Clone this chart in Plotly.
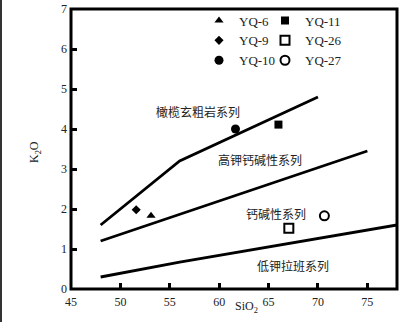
import plotly.graph_objects as go

# ---- data ----
samples = ["YQ-6", "YQ-9", "YQ-10", "YQ-11", "YQ-26", "YQ-27"]
sio2 = [53.1, 51.6, 61.65, 66.0, 67.05, 70.65]
k2o = [1.83, 1.98, 4.0, 4.11, 1.52, 1.83]

# boundary lines
shoshonite_x = [48, 56, 70]
shoshonite_y = [1.6, 3.2, 4.8]
highk_x = [48, 75]
highk_y = [1.2, 3.45]
lowk_x = [48, 56, 78]
lowk_y = [0.3, 0.67, 1.6]

field_labels = ["橄榄玄粗岩系列", "高钾钙碱性系列", "钙碱性系列", "低钾拉班系列"]
field_label_x = [57.9, 64.1, 65.8, 67.5]
field_label_y = [4.43, 3.23, 1.9, 0.59]

x_ticks = [45, 50, 55, 60, 65, 70, 75]
y_ticks = [0, 1, 2, 3, 4, 5, 6, 7]

# ---- styles ----
symbols = ["triangle-up", "diamond", "circle", "square", "square-open", "circle-open"]
sizes = [8, 7, 9, 8, 9, 9]
legend_ids = ["legend", "legend", "legend", "legend2", "legend2", "legend2"]

SERIF = "Liberation Serif, Times New Roman, serif"
CJK = "Noto Sans CJK SC"

fig = go.Figure()

for xs, ys in [(shoshonite_x, shoshonite_y), (highk_x, highk_y), (lowk_x, lowk_y)]:
    fig.add_trace(go.Scatter(x=xs, y=ys, mode="lines", line=dict(color="black", width=2.8),
                             showlegend=False, hoverinfo="skip"))

for i, name in enumerate(samples):
    fig.add_trace(go.Scatter(
        x=[sio2[i]], y=[k2o[i]], mode="markers", name=name,
        marker=dict(symbol=symbols[i], size=sizes[i], color="black",
                    line=dict(color="black", width=2 if "open" in symbols[i] else 0)),
        legend=legend_ids[i],
    ))

for t, x, y in zip(field_labels, field_label_x, field_label_y):
    fig.add_annotation(x=x, y=y, text=t, showarrow=False, xanchor="center", yanchor="middle",
                       font=dict(family=CJK, size=12, color="#222"))

L, R, T, B = 71, 9, 9, 33
W, H = 406, 322
pw, ph = W - L - R, H - T - B

# axis titles
fig.add_annotation(xref="paper", yref="paper", x=(246.7 - L) / pw, y=(H - B - 306.7) / ph,
                   text="SiO<sub>2</sub>", showarrow=False, xanchor="center", yanchor="middle",
                   font=dict(family=SERIF, size=12, color="#222"))
fig.add_annotation(xref="paper", yref="paper", x=(35 - L) / pw, y=(H - B - 152) / ph,
                   text="K<sub>2</sub>O", showarrow=False, textangle=-90,
                   xanchor="center", yanchor="middle",
                   font=dict(family=SERIF, size=12, color="#222"))

# plot frame
fig.add_shape(type="rect", xref="paper", yref="paper", x0=0, x1=1, y0=0, y1=1,
              line=dict(color="black", width=3), layer="above")
# thin outer edge line at the far left of the picture
fig.add_shape(type="line", xref="paper", yref="paper",
              x0=(1 - L) / pw, x1=(1 - L) / pw, y0=-B / ph, y1=1 + T / ph,
              line=dict(color="#333", width=2))

axis_common = dict(showline=False, ticks="inside", ticklen=6, tickwidth=2.5, tickcolor="black",
                   showgrid=False, zeroline=False, automargin=False,
                   tickfont=dict(family=SERIF, size=12, color="#222"))

fig.update_xaxes(range=[45, 78], tickvals=x_ticks, ticktext=[str(v) for v in x_ticks],
                 ticklabelstandoff=4, **axis_common)
fig.update_yaxes(range=[0, 7], tickvals=y_ticks, ticktext=[str(v) for v in y_ticks],
                 ticklabelstandoff=3, **axis_common)

legend_common = dict(font=dict(family=SERIF, size=13, color="#222"), bgcolor="rgba(0,0,0,0)",
                     tracegroupgap=0, itemwidth=30, xanchor="left", yanchor="top",
                     orientation="v")
fig.update_layout(
    width=W, height=H,
    margin=dict(l=L, r=R, t=T, b=B, pad=0, autoexpand=False),
    paper_bgcolor="white", plot_bgcolor="white",
    legend=dict(x=(199 - L) / pw, y=(H - B - 5.5) / ph, **legend_common),
    legend2=dict(x=(265 - L) / pw, y=(H - B - 5.5) / ph, **legend_common),
)

fig.write_html("out.html")
